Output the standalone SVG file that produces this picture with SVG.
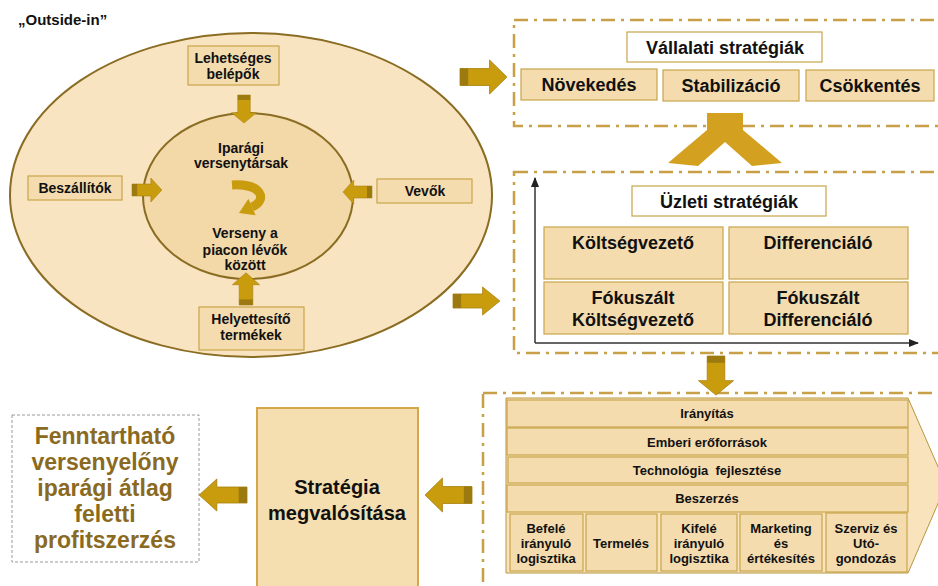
<svg xmlns="http://www.w3.org/2000/svg" width="938" height="586" viewBox="0 0 938 586">
<style>
text{font-family:"Liberation Sans",Arial,sans-serif;font-weight:bold;fill:#111;text-anchor:middle}
.box{fill:#f5dcae;stroke:#c9a54a;stroke-width:1.2}
.wbox{fill:#fff;stroke:#c9a54a;stroke-width:1.2}
.dash{fill:none;stroke:#c8a048;stroke-width:2.5;stroke-dasharray:14 6 3 6}
.t14{font-size:14px}
.t18{font-size:18px}
.t13{font-size:13px}
.axis{stroke:#333;stroke-width:1.5;fill:none}
</style>
<defs>
<g id="arr">
<polygon points="0,-8 29,-8 29,-16 46,0 29,16 29,8 0,8" fill="#c99c0e" stroke="#a88010" stroke-width="0.8"/>
<rect x="0" y="-8" width="8" height="16" fill="#9c7a10"/>
</g>
<marker id="ah" viewBox="0 0 10 10" refX="9" refY="5" markerWidth="7" markerHeight="7" orient="auto">
<path d="M0,1 L10,5 L0,9 z" fill="#222"/>
</marker>
</defs>
<rect width="938" height="586" fill="#fff"/>

<text x="18" y="25" style="font-size:15px;text-anchor:start">„Outside-in”</text>

<g id="outer-ellipse">
<ellipse cx="251" cy="195" rx="241" ry="162" fill="#f9e4c1" stroke="#8a6c22" stroke-width="2"/>
</g>
<g id="inner-ellipse">
<ellipse cx="248" cy="196" rx="105" ry="83" fill="#f3d8a8" stroke="#8a6c22" stroke-width="2"/>
<text class="t14" x="241" y="153">Iparági</text>
<text class="t14" x="241" y="168">versenytársak</text>
<path d="M232,185 C262,183 268,200 252,207" fill="none" stroke="#c99c0e" stroke-width="9"/>
<polygon points="239,213 248.4,198.7 255.6,215.3" fill="#c99c0e"/>
<text class="t14" x="245" y="238">Verseny a</text>
<text class="t14" x="245" y="255">piacon lévők</text>
<text class="t14" x="245" y="270">között</text>
</g>

<g id="lehetseges">
<rect class="box" x="188" y="46" width="91" height="39"/>
<text class="t14" x="233" y="63">Lehetséges</text>
<text class="t14" x="233" y="79">belépők</text>
</g>
<g id="beszallitok">
<rect class="box" x="28" y="176" width="94" height="24"/>
<text class="t14" x="75" y="193">Beszállítók</text>
</g>
<g id="vevok">
<rect class="box" x="377" y="179" width="95" height="24"/>
<text class="t14" x="425" y="196">Vevők</text>
</g>
<g id="helyettesito">
<rect class="box" x="199" y="307" width="105" height="43"/>
<text class="t14" x="251" y="324">Helyettesítő</text>
<text class="t14" x="251" y="340">termékek</text>
</g>

<g id="vallalati">
<rect class="dash" x="514" y="20" width="430" height="106"/>
<rect class="wbox" x="627" y="32" width="195" height="30"/>
<text class="t18" x="725" y="54">Vállalati stratégiák</text>
<rect class="box" x="521" y="69" width="136" height="31"/>
<text class="t18" x="589" y="91">Növekedés</text>
<rect class="box" x="663" y="70" width="136" height="31"/>
<text class="t18" x="731" y="92">Stabilizáció</text>
<rect class="box" x="806" y="70" width="128" height="31"/>
<text class="t18" x="870" y="92">Csökkentés</text>
</g>

<g id="uzleti">
<rect class="dash" x="514" y="172" width="430" height="181"/>
<line class="axis" x1="535" y1="343" x2="535" y2="178" marker-end="url(#ah)"/>
<line class="axis" x1="535" y1="343" x2="918" y2="343" marker-end="url(#ah)"/>
<rect class="wbox" x="632" y="186" width="194" height="30"/>
<text class="t18" x="729" y="208">Üzleti stratégiák</text>
<rect class="box" x="544" y="227" width="179" height="52"/>
<text class="t18" x="633" y="249">Költségvezető</text>
<rect class="box" x="729" y="227" width="179" height="52"/>
<text class="t18" x="818" y="249">Differenciáló</text>
<rect class="box" x="544" y="282" width="179" height="52"/>
<text class="t18" x="633" y="304">Fókuszált</text>
<text class="t18" x="633" y="326">Költségvezető</text>
<rect class="box" x="729" y="282" width="179" height="52"/>
<text class="t18" x="818" y="304">Fókuszált</text>
<text class="t18" x="818" y="326">Differenciáló</text>
</g>

<g id="ertekla">
<rect class="dash" x="483" y="393" width="460" height="200"/>
<polygon points="506,398 908,398 946,485 908,573 506,573" fill="#f8e3bd" stroke="#b8963e" stroke-width="1"/>
<rect class="box" x="507" y="400" width="401" height="27"/>
<text class="t13" x="707" y="418">Irányítás</text>
<rect class="box" x="507" y="428" width="401" height="27"/>
<text class="t13" x="707" y="447">Emberi erőforrások</text>
<rect class="box" x="508" y="457" width="400" height="26"/>
<text class="t13" x="707" y="475" xml:space="preserve">Technológia  fejlesztése</text>
<rect class="box" x="507" y="485" width="401" height="27"/>
<text class="t13" x="707" y="503">Beszerzés</text>
<rect class="box" x="510" y="514" width="73" height="57"/>
<text class="t13" x="546" y="533">Befelé</text>
<text class="t13" x="546" y="548">irányuló</text>
<text class="t13" x="546" y="563">logisztika</text>
<rect class="box" x="586" y="514" width="71" height="57"/>
<text class="t13" x="621" y="548">Termelés</text>
<rect class="box" x="661" y="514" width="76" height="57"/>
<text class="t13" x="699" y="533">Kifelé</text>
<text class="t13" x="699" y="548">irányuló</text>
<text class="t13" x="699" y="563">logisztika</text>
<rect class="box" x="740" y="514" width="82" height="57"/>
<text class="t13" x="781" y="533">Marketing</text>
<text class="t13" x="781" y="548">és</text>
<text class="t13" x="781" y="563">értékesítés</text>
<rect class="box" x="826" y="513" width="81" height="59"/>
<text class="t13" x="866" y="533">Szerviz és</text>
<text class="t13" x="866" y="548">Utó-</text>
<text class="t13" x="866" y="563">gondozás</text>
</g>

<g id="strategia">
<rect x="257" y="408" width="161" height="190" fill="#f5dfb0" stroke="#d4a84a" stroke-width="2"/>
<text x="337" y="494" style="font-size:20px">Stratégia</text>
<text x="337" y="520" style="font-size:20px">megvalósítása</text>
</g>

<g id="fenntarthato">
<rect x="12" y="415" width="187" height="147" fill="#fff" stroke="#999" stroke-width="1" stroke-dasharray="3 2"/>
<g style="font-size:23px">
<text x="105" y="444" fill="#8a6a1f" style="fill:#8a6a1f">Fenntartható</text>
<text x="105" y="470" style="fill:#8a6a1f">versenyelőny</text>
<text x="105" y="496" style="fill:#8a6a1f">iparági átlag</text>
<text x="105" y="522" style="fill:#8a6a1f">feletti</text>
<text x="105" y="548" style="fill:#8a6a1f">profitszerzés</text>
</g>
</g>

<g id="connectors">
<use href="#arr" transform="translate(244,95) rotate(90) scale(0.61,0.78)"/>
<use href="#arr" transform="translate(132,190) scale(0.65,0.75)"/>
<use href="#arr" transform="translate(372,192) rotate(180) scale(0.63,0.75)"/>
<use href="#arr" transform="translate(246,305) rotate(-90) scale(0.7,0.85)"/>
<use href="#arr" transform="translate(460,77) scale(1.02,1.06)"/>
<use href="#arr" transform="translate(453,301) scale(1.02,0.88)"/>
<use href="#arr" transform="translate(716,356) rotate(90) scale(0.85,1.1)"/>
<use href="#arr" transform="translate(472,495) rotate(180) scale(1.02,1.06)"/>
<use href="#arr" transform="translate(247,495) rotate(180) scale(1.04,1.0)"/>
<polygon points="707,113 743,113 743,130 782,163 752,166 725,142 698,166 668,163 707,130" fill="#d4a020"/>
</g>
</svg>
